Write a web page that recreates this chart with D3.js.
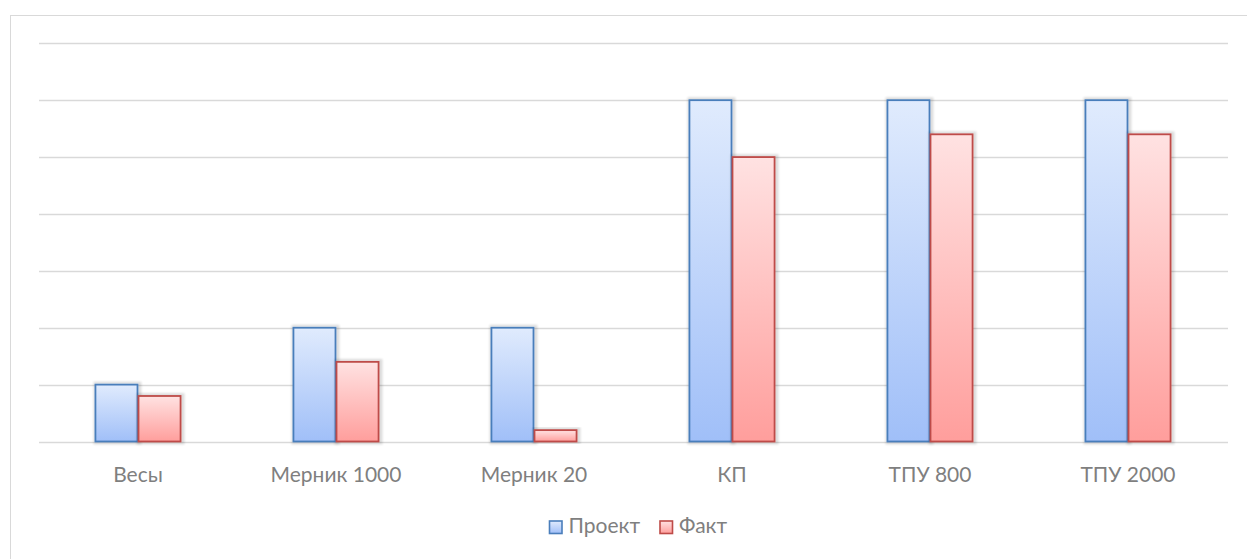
<!DOCTYPE html>
<html><head><meta charset="utf-8">
<script src="https://cdn.jsdelivr.net/npm/d3@7"></script>
<style>body{margin:0;background:#fff}svg{display:block}</style>
</head><body>
<script>
const categories = ["Весы","Мерник 1000","Мерник 20","КП","ТПУ 800","ТПУ 2000"];
const seriesNames = ["Проект","Факт"];
const proekt = [1,2,2,6,6,6];
const fakt = [0.8,1.4,0.2,5.0,5.4,5.4];
const yTicks = [0,1,2,3,4,5,6,7];

const W=1247,H=559;
const FONT="Lato, 'Open Sans', sans-serif";
const svg=d3.select("body").append("svg").attr("width",W).attr("height",H);
const defs=svg.append("defs");
function grad(id,c1,c2){const g=defs.append("linearGradient").attr("id",id).attr("x1",0).attr("y1",0).attr("x2",0).attr("y2",1);
g.append("stop").attr("offset","0%").attr("stop-color",c1);g.append("stop").attr("offset","100%").attr("stop-color",c2);}
grad("gB","#e0ebfd","#a0bff8");
grad("gR","#ffe2e2","#ff9e9c");
const f=defs.append("filter").attr("id","sh").attr("x","-20%").attr("y","-20%").attr("width","140%").attr("height","140%");
f.append("feMorphology").attr("in","SourceAlpha").attr("operator","dilate").attr("radius",2).attr("result","d");
f.append("feGaussianBlur").attr("in","d").attr("stdDeviation",1.2).attr("result","b");
f.append("feOffset").attr("in","b").attr("dx",1).attr("dy",0).attr("result","o");
f.append("feComponentTransfer").attr("in","o").attr("result","o2").append("feFuncA").attr("type","linear").attr("slope",0.14);
const m=f.append("feMerge");m.append("feMergeNode").attr("in","o2");m.append("feMergeNode").attr("in","SourceGraphic");

svg.append("rect").attr("x",10.5).attr("y",15.5).attr("width",W).attr("height",H).attr("fill","none").attr("stroke","#d9d9d9");

const x0=d3.scaleBand().domain(categories).range([39,1227]).paddingInner(0.565).paddingOuter(0.2825);
const x1=d3.scaleBand().domain(seriesNames).range([0,x0.bandwidth()]);
const y=d3.scaleLinear().domain([0,7]).range([441.5,43.3]);

svg.append("g").selectAll("line").data(yTicks).join("line")
 .attr("x1",39).attr("x2",1228).attr("y1",d=>Math.round(y(d))+0.5).attr("y2",d=>Math.round(y(d))+0.5)
 .attr("stroke","#d9d9d9").attr("stroke-width",1.3);

const data=[{s:"Проект",v:proekt,fill:"url(#gB)",stroke:"#4a7ebb"},{s:"Факт",v:fakt,fill:"url(#gR)",stroke:"#be4b48"}];
data.forEach(ser=>{
 svg.append("g").selectAll("rect").data(categories).join("rect")
  .attr("x",(c)=>x0(c)+x1(ser.s)+0.5)
  .attr("y",(c,i)=>y(ser.v[i]))
  .attr("width",x1.bandwidth()-1)
  .attr("height",(c,i)=>y(0)-y(ser.v[i]))
  .attr("fill",ser.fill).attr("stroke",ser.stroke).attr("stroke-width",1.8)
  .attr("filter","url(#sh)");
});

const xAxis=svg.append("g").attr("transform","translate(0,441.5)").call(d3.axisBottom(x0).tickSize(0));
xAxis.select(".domain").remove();
xAxis.selectAll("text").attr("y",40.5).attr("dy",0).attr("fill","#7f7f7f").style("font-family",FONT).style("font-size","21px");

const lg=svg.append("g");
const lx=[549.5,660];
data.forEach((ser,i)=>{
 lg.append("rect").attr("x",lx[i]).attr("y",521).attr("width",12.5).attr("height",12.5).attr("fill",ser.fill).attr("stroke",ser.stroke).attr("stroke-width",1.6);
 lg.append("text").attr("x",lx[i]+19).attr("y",533).text(ser.s).attr("fill","#7f7f7f").style("font-family",FONT).style("font-size","21px");
});
</script>
</body></html>
